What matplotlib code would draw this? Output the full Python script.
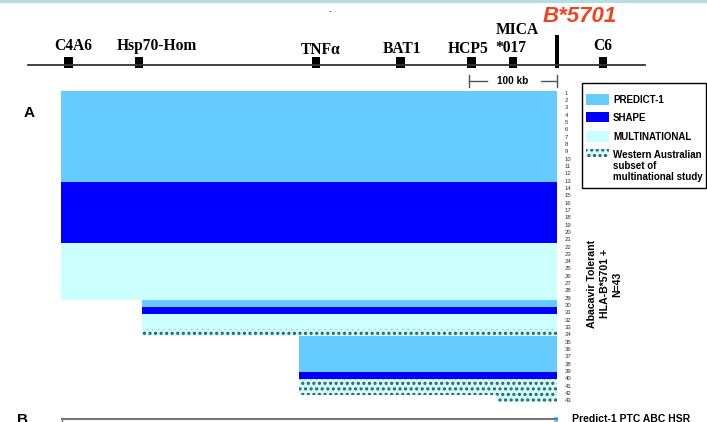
import matplotlib.pyplot as plt
from matplotlib.patches import Rectangle
import numpy as np

plt.rcParams['font.family'] = ['Liberation Sans', 'DejaVu Sans']
plt.rcParams['hatch.linewidth'] = 1.5

# gene map, positions in kb relative to HLA-B*5701
genes = ['C4A6', 'Hsp70-Hom', 'TNFα', 'BAT1', 'HCP5', 'MICA*017', 'C6']
gene_kb = [-555, -475, -274, -178, -97, -50, 52]
b5701_kb = 0
scale_kb = 100

# haplotype blocks, top to bottom: study, height in patients, left end (kb)
block_study = ['PREDICT-1', 'SHAPE', 'MULTINATIONAL',
               'PREDICT-1', 'SHAPE', 'MULTINATIONAL', 'WA',
               'PREDICT-1', 'SHAPE', 'WA', 'WA']
block_rows = [12.55, 8.4, 7.8, 1.0, 0.95, 2.05, 1.05, 4.95, 1.0, 2.15, 1.0]
block_left = [-564, -564, -564, -472, -472, -472, -472, -293, -293, -293, -68]
n_patients = 43

study_color = {'PREDICT-1': '#66CCFF', 'SHAPE': '#0000FF',
               'MULTINATIONAL': '#CCFFFF', 'WA': '#CCFFFF'}
legend_labels = ['PREDICT-1', 'SHAPE', 'MULTINATIONAL',
                 'Western Australian\nsubset of\nmultinational study']
WA_HATCH = '...'
DOT = '#3a5a5a'

px_per_kb = 0.88
x0_px = 557  # pixel of B*5701
kb_lim = ((0 - x0_px) / px_per_kb, (707 - x0_px) / px_per_kb)
row_px = 7.256
row0_px = 91

fig = plt.figure(figsize=(7.07, 4.22), dpi=100)
# pixel overlay for text/legend
ax = fig.add_axes([0, 0, 1, 1])
ax.set_xlim(0, 707)
ax.set_ylim(422, 0)
ax.axis('off')
# gene map: x in kb, y in pixels
mx = fig.add_axes([0, 0, 1, 1])
mx.set_xlim(*kb_lim)
mx.set_ylim(422, 0)
mx.axis('off')
# haplotype bars: x in kb, y in patient rows
bx = fig.add_axes([0, 0, 1, 1])
bx.set_xlim(*kb_lim)
bx.set_ylim((422 - row0_px) / row_px, -row0_px / row_px)
bx.axis('off')

# top band
ax.add_patch(Rectangle((0, 0), 707, 3, color='#B3DEE2', lw=0))
ax.text(330, 12, '-', fontsize=6, ha='center', va='center')

# chromosome line and markers
mx.plot([(28 - x0_px) / px_per_kb, (645 - x0_px) / px_per_kb], [65, 65],
        color='#333333', lw=1.3)
mx.bar(gene_kb, 11, bottom=57, width=9.5, color='black')
mx.bar(b5701_kb, 33, bottom=35, width=5.5, color='black')

serif = dict(family=['Liberation Serif', 'DejaVu Serif'], weight='bold',
             fontsize=11.2, ha='center', va='center')
label_pos = [(73, 46), (157, 46), (321, 50), (402, 49), (468, 49), (514, 39), (603, 46)]
for name, (lx, ly) in zip(genes, label_pos):
    if name.startswith('MICA'):
        ax.text(517, 30, 'MICA', **serif)
        ax.text(511, 48, '*017', **serif)
    else:
        ax.text(lx, ly, name, **serif)
ax.text(580, 16, 'B*5701', color='#EE4422', style='italic', weight='bold',
        fontsize=16, ha='center', va='center')

# 100 kb scale bar
sc = '#555555'
mx.plot([-scale_kb, -scale_kb], [75, 87], color=sc, lw=1)
mx.plot([b5701_kb, b5701_kb], [75, 87], color=sc, lw=1)
mx.plot([-scale_kb, (487 - x0_px) / px_per_kb], [81, 81], color=sc, lw=1)
mx.plot([(541 - x0_px) / px_per_kb, b5701_kb], [81, 81], color=sc, lw=1)
mx.text(-scale_kb / 2, 81, '100 kb', fontsize=7.2, weight='bold',
        ha='center', va='center')

# haplotype blocks
top = 0.0
for study, h, left in zip(block_study, block_rows, block_left):
    hatch = WA_HATCH if study == 'WA' else None
    bx.barh(top + h / 2, b5701_kb - left, left=left, height=h,
            color=study_color[study], hatch=hatch, edgecolor=DOT, lw=0)
    top += h

# patient numbers
for k, yy in zip(range(1, n_patients + 1), np.linspace(0.3, 42.7, n_patients)):
    bx.text((565 - x0_px) / px_per_kb, yy, str(k), fontsize=4.3,
            color='#333333', ha='left', va='center')

# legend
ax.add_patch(Rectangle((582, 83), 124, 105, fill=False, ec='black', lw=1))
patch_y = [(94, 11), (112, 10), (131, 11), (149, 8)]
text_y = [100, 118, 137, 166]
for lab, key, (py, ph), ty in zip(legend_labels, ['PREDICT-1', 'SHAPE', 'MULTINATIONAL', 'WA'],
                                  patch_y, text_y):
    ax.add_patch(Rectangle((586, py), 23, ph, facecolor=study_color[key], lw=0,
                           hatch=WA_HATCH if key == 'WA' else None, edgecolor=DOT))
    ax.text(613, ty, lab, fontsize=7, weight='bold', ha='left', va='center',
            linespacing=1.1)

# side label
side = ['Abacavir Tolerant', 'HLA-B*5701 +', 'N=43']
for sx, s in zip([592, 605, 617], side):
    ax.text(sx, 284, s, rotation=90, fontsize=7.6, weight='bold',
            ha='center', va='center')

# panel letters
ax.text(29, 113, 'A', fontsize=11, weight='bold', ha='center', va='center')
ax.text(23, 413, 'B', fontsize=11, weight='bold', ha='center', va='top')

# start of panel B
ax.plot([62, 557], [418.5, 418.5], color='#777777', lw=1.5)
ax.plot([62, 62], [418, 422], color='#777777', lw=1)
ax.add_patch(Rectangle((554, 417), 4, 5, color='#66CCFF', lw=0))
ax.text(572, 414, 'Predict-1 PTC ABC HSR', fontsize=7.5, weight='bold',
        ha='left', va='top')

fig.savefig('out.png', dpi=100)
